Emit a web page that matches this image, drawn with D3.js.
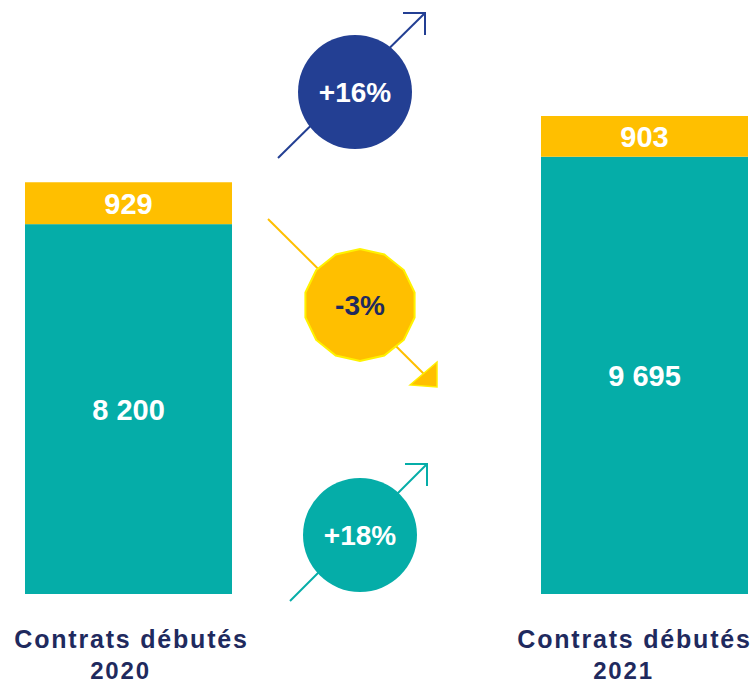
<!DOCTYPE html>
<html><head><meta charset="utf-8">
<script src="https://cdn.jsdelivr.net/npm/d3@7"></script>
<style>html,body{margin:0;padding:0;background:#fff;}svg{display:block;}</style>
</head><body>
<script>
// Data
const years = ["2020", "2021"];
const categoryLabel = "Contrats débutés";
const mainValues = [8200, 9695];   // teal segment
const topValues = [929, 903];      // yellow segment
const changeLabels = ["+16%", "-3%", "+18%"];

const W = 755, H = 684;
const teal = "#05ADA8", yellow = "#FFBF00", navy = "#233F93", textNavy = "#1F2A5E";
const svg = d3.select("body").append("svg").attr("width", W).attr("height", H);

const x = d3.scaleBand().domain(years).range([25, 748]).paddingInner(309 / 516).paddingOuter(0);
const y = d3.scaleLinear().domain([0, 10598]).range([594, 116]);
const fmt = v => d3.format(",")(v).replace(/,/g, " ");

const data = years.map((yr, i) => ({ yr, main: mainValues[i], top: topValues[i] }));

// teal bars
svg.selectAll("rect.main").data(data).join("rect")
  .attr("x", d => x(d.yr)).attr("width", x.bandwidth())
  .attr("y", d => y(d.main)).attr("height", d => y(0) - y(d.main))
  .attr("fill", teal);
// yellow bars
svg.selectAll("rect.top").data(data).join("rect")
  .attr("x", d => x(d.yr)).attr("width", x.bandwidth())
  .attr("y", d => y(d.main + d.top)).attr("height", d => y(d.main) - y(d.main + d.top))
  .attr("fill", yellow);

const font = "'Liberation Sans', Arial, sans-serif";
svg.selectAll("text.mainv").data(data).join("text")
  .attr("x", d => x(d.yr) + x.bandwidth() / 2)
  .attr("y", d => (y(0) + y(d.main)) / 2).attr("dy", "0.36em")
  .attr("text-anchor", "middle").attr("font-family", font).attr("font-weight", "bold")
  .attr("font-size", 29).attr("fill", "#fff").text(d => fmt(d.main));
svg.selectAll("text.topv").data(data).join("text")
  .attr("x", d => x(d.yr) + x.bandwidth() / 2)
  .attr("y", d => (y(d.main) + y(d.main + d.top)) / 2).attr("dy", "0.36em")
  .attr("text-anchor", "middle").attr("font-family", font).attr("font-weight", "bold")
  .attr("font-size", 29).attr("fill", "#fff").text(d => fmt(d.top));

// category labels
const lab = svg.selectAll("g.lab").data(data).join("g")
  .attr("transform", d => `translate(${x(d.yr) + x.bandwidth() / 2 + (d.yr === "2020" ? 3 : -10)},0)`);
lab.append("text").attr("y", 648).attr("text-anchor", "middle")
  .attr("font-family", font).attr("font-weight", "bold").attr("font-size", 25)
  .attr("letter-spacing", "1.8px").attr("fill", textNavy).text(categoryLabel);
lab.append("text").attr("x", -11).attr("y", 679).attr("text-anchor", "middle")
  .attr("font-family", font).attr("font-weight", "bold").attr("font-size", 24)
  .attr("letter-spacing", "1.8px").attr("fill", textNavy).text(d => d.yr);

// change annotations
const ann = [
  { label: changeLabels[0], cx: 355, cy: 92, fill: navy, line: navy, txt: "#fff", from: [278, 158], to: [425, 13], head: "open", poly: false },
  { label: changeLabels[1], cx: 360, cy: 305, fill: yellow, line: yellow, txt: textNavy, from: [268, 219], to: [430, 380], head: "filled", poly: true },
  { label: changeLabels[2], cx: 360, cy: 535, fill: teal, line: teal, txt: "#fff", from: [290, 601], to: [427, 464], head: "open", poly: false }
];
ann.forEach(a => {
  svg.append("line").attr("x1", a.from[0]).attr("y1", a.from[1]).attr("x2", a.to[0]).attr("y2", a.to[1])
    .attr("stroke", a.line).attr("stroke-width", 2);
  if (a.head === "open") {
    const len = 22;
    svg.append("path")
      .attr("d", `M${a.to[0] - len},${a.to[1]}L${a.to[0]},${a.to[1]}L${a.to[0]},${a.to[1] + len}`)
      .attr("fill", "none").attr("stroke", a.line).attr("stroke-width", 2);
  } else {
    svg.append("path").attr("d", "M410,385L437,362L437,387Z")
      .attr("fill", yellow).attr("stroke", "#FFEF00").attr("stroke-width", 1.5);
  }
  if (a.poly) {
    const n = 14, r = 56;
    const pts = d3.range(n).map(i => {
      const t = (i / n) * 2 * Math.PI + Math.PI / n;
      return [a.cx + r * Math.cos(t), a.cy + r * Math.sin(t)];
    });
    svg.append("path").attr("d", "M" + pts.join("L") + "Z")
      .attr("fill", a.fill).attr("stroke", "#FFF200").attr("stroke-width", 2);
  } else {
    svg.append("circle").attr("cx", a.cx).attr("cy", a.cy).attr("r", 57).attr("fill", a.fill);
  }
  svg.append("text").attr("x", a.cx).attr("y", a.cy).attr("dy", "0.36em")
    .attr("text-anchor", "middle").attr("font-family", font).attr("font-weight", "bold")
    .attr("font-size", 28).attr("fill", a.txt).text(a.label);
});
</script>
</body></html>
